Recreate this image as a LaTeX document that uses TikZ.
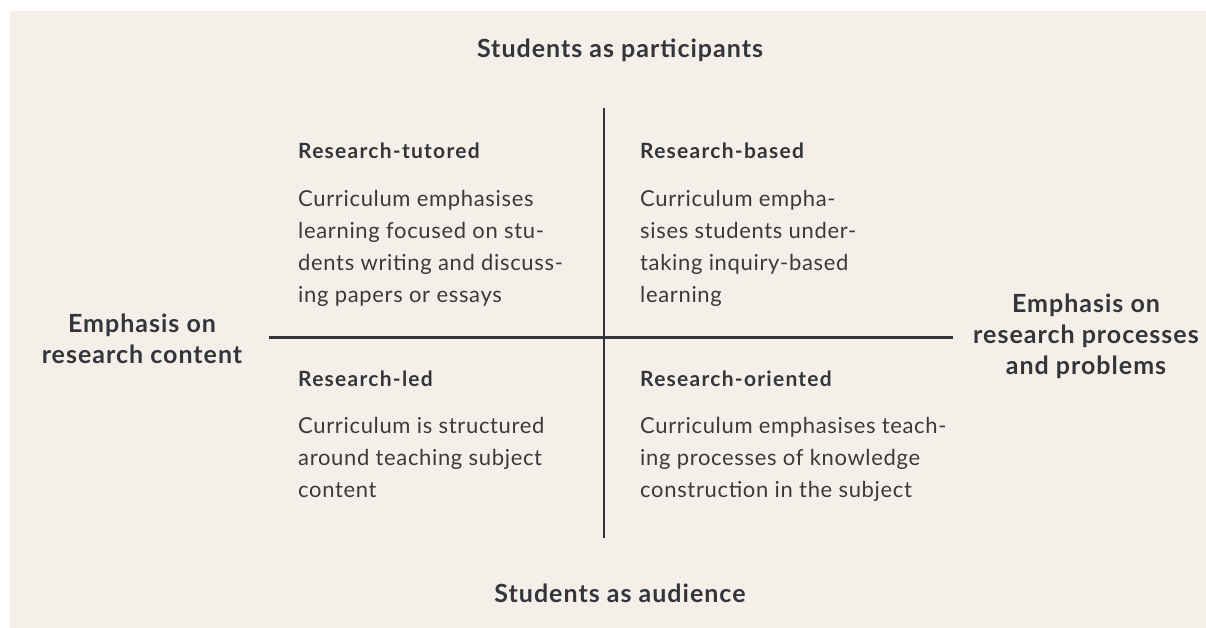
\documentclass[tikz,border=0pt]{standalone}
\usepackage{fontspec}
\setmainfont{Lato}
\newfontfamily\labelfont[LetterSpace=4]{Lato}
\newfontfamily\titlefont[LetterSpace=6]{Lato}
\newfontfamily\bodyfont[LetterSpace=3]{Lato}
\definecolor{bg}{HTML}{F4F0E9}
\definecolor{ink}{HTML}{33353A}
\definecolor{txt}{HTML}{3A3A3C}
\tikzset{
  axislabel/.style={font=\labelfont\fontsize{25}{31}\selectfont\bfseries, text=ink, align=center, inner sep=0pt},
  qtitle/.style={font=\titlefont\fontsize{21}{24}\selectfont\bfseries, text=ink, anchor=north west, inner sep=0pt},
  qbody/.style={font=\bodyfont\fontsize{22}{32}\selectfont, text=txt, anchor=north west, align=left, inner sep=0pt},
  axis/.style={draw=ink, line width=2.6pt}
}
\begin{document}
\begin{tikzpicture}[x=1pt,y=-1pt]
\useasboundingbox (0,0) rectangle (1206,628);
\fill[white] (0,0) rectangle (1206,628);
\fill[bg] (10,11) rectangle (1206,628);
% axes
\coordinate (vtop) at (604,108);
\coordinate (vbot) at (604,538);
\coordinate (hleft) at (269,337.5);
\coordinate (hright) at (953,337.5);
\draw[axis] (vtop) -- (vbot);
\draw[axis] (hleft) -- (hright);
% axis labels
\node[axislabel] (top) at (620,50) {Students as participants};
\node[axislabel] (bottom) at (620,593) {Students as audience};
\node[axislabel] (left) at (142,339) {Emphasis on\\research content};
\node[axislabel] (right) at (1086,336) {Emphasis on\\research processes\\and problems};
% quadrants
\node[qtitle] (tl) at (298,143) {Research-tutored};
\node[qbody] (tlb) at (298,190) {Curriculum emphasises\\learning focused on stu-\\dents writing and discuss-\\ing papers or essays};
\node[qtitle] (tr) at (640,143) {Research-based};
\node[qbody] (trb) at (640,190) {Curriculum empha-\\sises students under-\\taking inquiry-based\\learning};
\node[qtitle] (bl) at (298,371) {Research-led};
\node[qbody] (blb) at (298,417) {Curriculum is structured\\around teaching subject\\content};
\node[qtitle] (br) at (640,371) {Research-oriented};
\node[qbody] (brb) at (640,417) {Curriculum emphasises teach-\\ing processes of knowledge\\construction in the subject};
\end{tikzpicture}
\end{document}
